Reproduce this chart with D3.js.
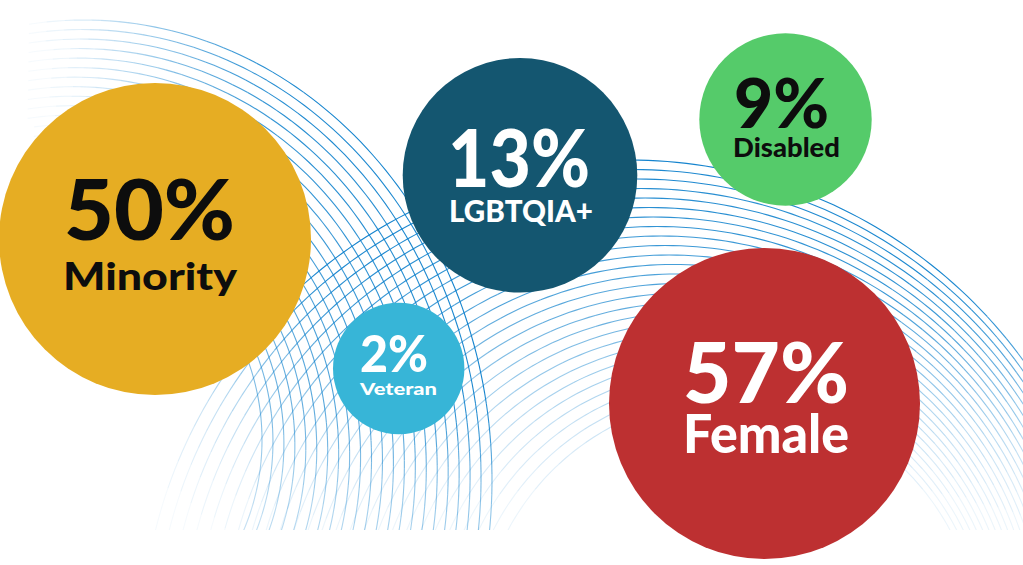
<!DOCTYPE html>
<html>
<head>
<meta charset="utf-8">
<script src="https://cdn.jsdelivr.net/npm/d3@7"></script>
<style>
  html, body { margin: 0; padding: 0; background: #ffffff; overflow: hidden; }
  svg { display: block; }
</style>
</head>
<body>
<svg id="chart" width="1023" height="565"></svg>
<script>
// ---------------- DATA ----------------
const categories = ["Minority", "LGBTQIA+", "Disabled", "Veteran", "Female"];
const values = [50, 13, 9, 2, 57];
const valueLabels = values.map(v => v + "%");

// ---------------- STYLE / LAYOUT ----------------
const fillColors = ["#E6AD23", "#145670", "#55CB6A", "#37B5D7", "#BD3031"];
const textColors = ["#0d0d0d", "#ffffff", "#0d0d0d", "#ffffff", "#ffffff"];
const centerX = [155, 520, 785.5, 398.7, 764.5];
const centerY = [239, 175.3, 119.5, 368.5, 403.5];
// label placement relative to bubble centre: [dx, baseline dy, cap height, width]
const valueText = [[-5.5, 1, 60, 171], [-1, 11.4, 57, 142], [-4, 8.8, 50, 95], [-4.7, 3.2, 36.7, 68], [1.5, -0.8, 60.7, 166]];
const nameText  = [[-5, 51, 27, 174], [1, 46.4, 22, 144], [1, 37.8, 19, 107], [-0.2, 26.5, 12.3, 77], [1.5, 49.5, 37.7, 166]];

const W = 1023, H = 565;
const svg = d3.select("#chart");

// bubble radius scale (piecewise, as drawn in the original design)
const rScale = d3.scaleLinear().domain([2, 9, 13, 50, 57]).range([65.7, 86.2, 117.3, 156, 155.5]);

// ---------------- DECORATIVE ARCS ----------------
const defs = svg.append("defs");
defs.append("clipPath").attr("id", "decorClip")
  .append("rect").attr("x", 0).attr("y", 0).attr("width", W).attr("height", 530);
const gDecor = svg.append("g").attr("clip-path", "url(#decorClip)");

const smooth = (e0, e1, x) => { let t = Math.max(0, Math.min(1, (x - e0) / (e1 - e0))); return t * t * (3 - 2 * t); };
const lineGen = d3.line().x(d => d[0]).y(d => d[1]);
const arcColor = "#0b7fcc";

function drawArc(a, opFn) {
  const steps = 160;
  const pts = [];
  for (let k = 0; k <= steps; k++) {
    const th = a.t0 + (a.t1 - a.t0) * k / steps;
    pts.push([a.cx + a.rx * Math.cos(th), a.cy + a.ry * Math.sin(th)]);
  }
  let run = [pts[0]], runOp = null;
  const flush = () => {
    if (run.length > 1 && runOp > 0.01) {
      gDecor.append("path").attr("d", lineGen(run)).attr("fill", "none")
        .attr("stroke", arcColor).attr("stroke-width", 1.1).attr("stroke-opacity", runOp);
    }
  };
  for (let k = 1; k < pts.length; k++) {
    const p0 = pts[k - 1], p1 = pts[k];
    const mx = (p0[0] + p1[0]) / 2, my = (p0[1] + p1[1]) / 2;
    const op = Math.round(opFn(mx, my) * 25) / 25;
    if (runOp === null) runOp = op;
    if (op !== runOp) { flush(); run = [p0]; runOp = op; }
    run.push(p1);
  }
  flush();
}

// family A: sweeping from top-left down to the lower middle
const nA = 22;
d3.range(nA).forEach(i => {
  const t = i / (nA - 1);
  const a = { cx: 84 - 30 * t, cy: 480 - 40 * t, rx: 408 - 200 * t, ry: 460 - 240 * t,
              t0: -Math.PI * 0.62, t1: Math.PI * 0.5 };
  const base = 0.95 - 0.35 * t;
  drawArc(a, (x, y) => base * smooth(0, 320, x) * (1 - 0.55 * smooth(380, 530, y)));
});

// family B: sweeping from lower-left across to the right edge
const nB = 26;
d3.range(nB).forEach(i => {
  const t = i / (nB - 1);
  const r = 488 - 9.5 * i;
  const a = { cx: 629 + 4 * i, cy: 648, rx: r, ry: r, t0: -Math.PI, t1: 0 };
  const base = 0.95 - 0.45 * t;
  drawArc(a, (x, y) => base * (0.2 + 0.8 * smooth(120, 340, x)) * (1 - 0.88 * smooth(260, 540, y)));
});

// ---------------- BUBBLES ----------------
const bubbles = categories.map((c, i) => ({ name: c, value: values[i], label: valueLabels[i], i }));
const g = svg.append("g");
const node = g.selectAll("g.bubble").data(bubbles).join("g").attr("class", "bubble")
  .attr("transform", d => `translate(${centerX[d.i]},${centerY[d.i]})`);

node.append("circle").attr("r", d => rScale(d.value)).attr("fill", d => fillColors[d.i]);

const capRatio = 0.72;
node.append("text")
  .attr("x", d => valueText[d.i][0]).attr("y", d => valueText[d.i][1])
  .attr("text-anchor", "middle")
  .attr("font-family", "Lato, 'Open Sans', sans-serif").attr("font-weight", 900)
  .attr("font-size", d => valueText[d.i][2] / capRatio)
  .attr("textLength", d => valueText[d.i][3]).attr("lengthAdjust", "spacingAndGlyphs")
  .attr("fill", d => textColors[d.i])
  .text(d => d.label);

node.append("text")
  .attr("x", d => nameText[d.i][0]).attr("y", d => nameText[d.i][1])
  .attr("text-anchor", "middle")
  .attr("font-family", "Lato, 'Open Sans', sans-serif").attr("font-weight", 900)
  .attr("font-size", d => nameText[d.i][2] / capRatio)
  .attr("textLength", d => nameText[d.i][3]).attr("lengthAdjust", "spacingAndGlyphs")
  .attr("fill", d => textColors[d.i])
  .text(d => d.name);
</script>
</body>
</html>
